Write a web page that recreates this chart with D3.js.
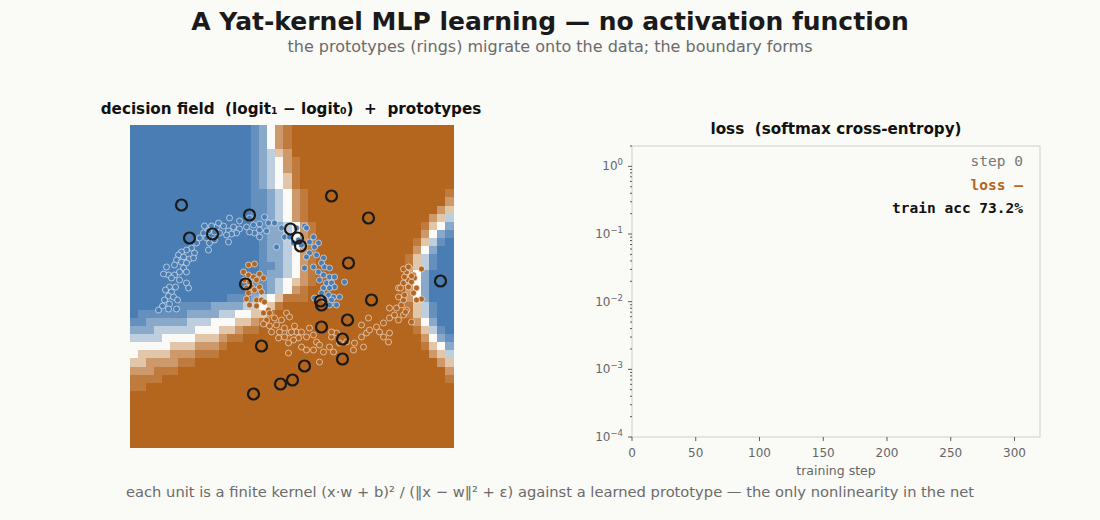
<!DOCTYPE html>
<html>
<head>
<meta charset="utf-8">
<script src="https://cdnjs.cloudflare.com/ajax/libs/d3/7.8.5/d3.min.js"></script>
<style>
  body { margin: 0; background: #fafaf6; }
  text { font-family: "DejaVu Sans", sans-serif; }
  .mono { font-family: "DejaVu Sans Mono", monospace; }
</style>
</head>
<body>
<script>
// decision field, 40x40 cells, top row first. digit 0 = strong class 0 (blue), 4 = boundary, 8 = strong class 1 (orange)
const fieldRows = [
  "0000000000000001246788888888888888888888",
  "0000000000000001246788888888888888888888",
  "0000000000000001246788888888888888888888",
  "0000000000000001235688888888888888888888",
  "0000000000000001234678888888888888888888",
  "0000000000000001234678888888888888888888",
  "0000000000000001234578888888888888888888",
  "0000000000000001234578888888888888888888",
  "0000000000000001123467888888888888888887",
  "0000000000000001123467888888888888888886",
  "0000000000000001123467888888888888888865",
  "0000000000000001123467888888888888888653",
  "0000000000000000122346788888888888887542",
  "0000000000000000122346788888888888886421",
  "0000000000000000122346788888888888875310",
  "0000000000000000122346788888888888864200",
  "0000000000000000122346788888888888753100",
  "0000000000000000112346788888888888753100",
  "0000000000000000122346788888888888642000",
  "0000000000000001123456788888888888642000",
  "0000000000000001123467888888888888642000",
  "0000000000001112345777888888888888642000",
  "0000001111222233457888888888888888753100",
  "0111111222233445578888888888888888753100",
  "1122222333444556788888888888888888864200",
  "2223333344455677888888888888888888875310",
  "3333444455567788888888888888888888886421",
  "4444455566678888888888888888888888887542",
  "4555566677788888888888888888888888888653",
  "5566667788888888888888888888888888888865",
  "6667778888888888888888888888888888888886",
  "7777888888888888888888888888888888888887",
  "7788888888888888888888888888888888888888",
  "8888888888888888888888888888888888888888",
  "8888888888888888888888888888888888888888",
  "8888888888888888888888888888888888888888",
  "8888888888888888888888888888888888888888",
  "8888888888888888888888888888888888888888",
  "8888888888888888888888888888888888888888",
  "8888888888888888888888888888888888888888"
];

// training points, class 0 (blue moon)
const class0 = [
  [-0.62,0.68],[-0.52,0.65],[-0.42,0.68],[-0.27,0.69],[-0.32,0.62],[-0.23,0.63],[-0.17,0.63],[-0.38,0.61],
  [-0.45,0.59],[-0.52,0.57],[-0.58,0.59],[-0.63,0.55],[-0.68,0.60],[-0.75,0.59],[-0.80,0.60],[-0.87,0.60],
  [-0.55,0.53],[-0.60,0.52],[-0.65,0.51],[-0.63,0.44],[-0.72,0.53],[-0.77,0.54],[-0.83,0.55],[-0.88,0.53],
  [-0.92,0.48],[-0.85,0.48],[-0.82,0.43],[-0.83,0.36],[-0.77,0.46],[-0.95,0.43],[-1.00,0.38],[-0.97,0.33],
  [-1.05,0.36],[-1.10,0.34],[-1.13,0.31],[-1.08,0.29],[-1.02,0.27],[-1.15,0.26],[-1.10,0.24],[-1.05,0.23],
  [-0.98,0.28],[-1.17,0.21],[-1.08,0.18],[-1.12,0.14],[-1.05,0.14],[-1.17,0.11],[-1.23,0.11],[-1.28,0.12],
  [-1.25,0.19],[-1.20,0.08],[-1.12,0.06],[-1.05,0.03],[-1.03,-0.02],[-1.22,-0.01],[-1.26,-0.04],[-1.20,-0.06],
  [-1.16,-0.01],[-1.23,-0.10],[-1.18,-0.11],[-1.27,-0.14],[-1.14,-0.14],[-1.22,-0.18],[-1.29,-0.20],[-1.33,-0.24],
  [-1.23,-0.23],[-1.15,-0.23],[-0.32,0.56],[-0.32,0.49],[-0.25,0.55],[-0.37,0.53],[-0.42,0.54],[-0.15,0.39],
  [-0.73,0.63],[-0.10,0.58],[-0.07,0.49],[-0.02,0.49],[0.05,0.58],[0.13,0.60],[0.15,0.58],[0.07,0.46],
  [0.02,0.43],[0.10,0.41],[0.18,0.44],[0.22,0.49],[0.27,0.43],[0.23,0.39],[0.18,0.33],[0.15,0.29],
  [0.25,0.31],[0.32,0.28],[0.30,0.23],[0.22,0.19],[0.13,0.18],[0.33,0.19],[0.38,0.18],[0.27,0.14],
  [0.32,0.11],[0.38,0.09],[0.43,0.09],[0.28,0.06],[0.35,0.03],[0.40,0.03],[0.53,0.04],[0.43,-0.01],
  [0.32,-0.02],[0.38,-0.02],[0.30,-0.07],[0.37,-0.09],[0.42,-0.11],[0.48,-0.11],[0.33,-0.13],[0.40,-0.14],
  [0.38,-0.19],[0.45,-0.19],[0.23,-0.12]
];

// training points, class 1 (orange moon)
const class1 = [
  [-0.43,0.21],[-0.37,0.22],[-0.48,0.14],[-0.43,0.11],[-0.38,0.09],[-0.32,0.12],[-0.47,0.06],[-0.42,0.04],
  [-0.35,0.06],[-0.28,0.08],[-0.40,-0.01],[-0.45,-0.02],[-0.37,-0.04],[-0.32,-0.01],[-0.43,-0.07],[-0.30,-0.06],
  [-0.45,-0.13],[-0.35,-0.14],[-0.30,-0.14],[-0.42,-0.19],[-0.35,-0.20],[-0.27,-0.16],[-0.23,-0.24],[-0.28,-0.27],
  [-0.22,-0.27],[-0.17,-0.32],[-0.25,-0.34],[-0.28,-0.38],[-0.22,-0.40],[-0.15,-0.39],[-0.10,-0.34],[-0.05,-0.27],
  [-0.02,-0.31],[0.03,-0.40],[-0.07,-0.42],[-0.12,-0.46],[-0.07,-0.51],[-0.02,-0.47],[0.05,-0.46],[0.10,-0.46],
  [0.15,-0.51],[0.07,-0.52],[0.02,-0.54],[-0.03,-0.57],[-0.13,-0.52],[0.10,-0.61],[0.15,-0.64],[0.22,-0.49],
  [0.25,-0.56],[0.28,-0.59],[0.22,-0.64],[0.32,-0.66],[0.38,-0.61],[0.40,-0.51],[0.45,-0.47],[0.42,-0.66],
  [0.48,-0.57],[0.55,-0.56],[0.63,-0.57],[0.62,-0.64],[0.70,-0.51],[0.75,-0.47],[0.78,-0.44],[0.85,-0.41],
  [0.88,-0.46],[0.92,-0.51],[0.97,-0.56],[0.98,-0.47],[0.92,-0.37],[0.98,-0.32],[1.03,-0.29],[1.07,-0.34],
  [1.12,-0.29],[1.20,-0.36],[1.15,-0.24],[1.05,-0.22],[0.98,-0.22],[1.10,-0.19],[1.12,-0.14],[1.07,-0.11],
  [1.13,-0.09],[1.07,-0.02],[1.12,0.03],[1.17,0.06],[1.15,0.14],[1.18,0.18],[1.22,0.11],[0.70,-0.39],
  [0.77,-0.32],[-0.03,-0.67],[0.28,-0.76],[0.40,-0.46],[0.18,-0.42],[0.72,-0.61],[0.00,-0.46],[-0.20,-0.46],
  [1.30,0.17],[1.23,0.08],[1.20,0.04],[1.25,-0.02],[1.22,-0.07],[1.30,-0.13],[1.25,-0.14],[1.17,-0.01],
  [1.20,0.10],[1.12,0.17],[1.17,0.19],[1.13,0.09],[1.09,-0.02],[1.14,-0.26]
];

// learned prototypes (ring centres)
const prototypes = [
  [-1.10,0.81],[-1.02,0.48],[-0.79,0.52],[-0.42,0.71],[-0.01,0.57],[0.06,0.48],[0.09,0.40],[0.40,0.90],
  [0.77,0.68],[0.57,0.23],[-0.46,0.02],[1.49,0.05],[0.80,-0.14],[0.29,-0.15],[0.30,-0.19],[0.56,-0.34],
  [0.30,-0.41],[0.51,-0.53],[0.51,-0.73],[-0.30,-0.60],[0.13,-0.80],[0.01,-0.94],[-0.11,-0.98],[-0.38,-1.08]
];

// loss panel
const lossDecades = [1e-4, 1e-3, 1e-2, 1e-1, 1];
const decadeExp = ["\u22124", "\u22123", "\u22122", "\u22121", "0"];
const stepTicks = [0, 50, 100, 150, 200, 250, 300];
const statusLines = [
  { text: "step 0", color: "#777777", weight: "normal" },
  { text: "loss \u2014", color: "#b5651d", weight: "bold" },
  { text: "train acc 73.2%", color: "#111111", weight: "bold" }
];

const W = 1100, H = 520;
const BLUE = "#4a7db3", ORANGE = "#b4651e", MID = "#fbfaf6";

const svg = d3.select("body").append("svg")
  .attr("width", W).attr("height", H)
  .style("display", "block");

svg.append("rect").attr("width", W).attr("height", H).attr("fill", "#fafaf6");

// titles
svg.append("text").attr("x", 550).attr("y", 30).attr("text-anchor", "middle")
  .attr("font-size", 25).attr("font-weight", "bold").attr("fill", "#1a1a1a")
  .text("A Yat-kernel MLP learning \u2014 no activation function");
svg.append("text").attr("x", 550).attr("y", 52).attr("text-anchor", "middle")
  .attr("font-size", 16).attr("fill", "#6b6b6b")
  .text("the prototypes (rings) migrate onto the data; the boundary forms");

// ---- decision field ----
const fx0 = 130, fx1 = 453, fy0 = 125, fy1 = 447;
const nCols = fieldRows[0].length, nRows = fieldRows.length;

const colBand = d3.scaleBand().domain(d3.range(nCols)).range([fx0, fx1]);
const rowBand = d3.scaleBand().domain(d3.range(nRows)).range([fy0, fy1]);

// colours get pale only close to the boundary
const whiteMix = [0, 0.15, 0.35, 0.65, 1];
const toBlue = d3.interpolateRgb(BLUE, MID), toOrange = d3.interpolateRgb(ORANGE, MID);
const fieldColor = v => v <= 0 ? toBlue(whiteMix[4 + v]) : toOrange(whiteMix[4 - v]);

const cells = [];
fieldRows.forEach((row, r) => {
  row.split("").forEach((ch, c) => cells.push({ r, c, v: +ch - 4 }));
});

svg.append("g").selectAll("rect")
  .data(cells)
  .enter().append("rect")
  .attr("x", d => colBand(d.c))
  .attr("y", d => rowBand(d.r))
  .attr("width", colBand.bandwidth() + 0.5)
  .attr("height", rowBand.bandwidth() + 0.5)
  .attr("fill", d => fieldColor(d.v))
  .attr("shape-rendering", "crispEdges");

const xF = d3.scaleLinear().domain([-1.615, 1.615]).range([fx0, fx1]);
const yF = d3.scaleLinear().domain([-1.61, 1.61]).range([fy1, fy0]);

const pts = svg.append("g");
pts.selectAll("circle.c0")
  .data(class0).enter().append("circle").attr("class", "c0")
  .attr("cx", d => xF(d[0])).attr("cy", d => yF(d[1])).attr("r", 3)
  .attr("fill", BLUE).attr("stroke", "#ffffff").attr("stroke-opacity", 0.7).attr("stroke-width", 0.8);
pts.selectAll("circle.c1")
  .data(class1).enter().append("circle").attr("class", "c1")
  .attr("cx", d => xF(d[0])).attr("cy", d => yF(d[1])).attr("r", 3)
  .attr("fill", ORANGE).attr("stroke", "#ffffff").attr("stroke-opacity", 0.7).attr("stroke-width", 0.8);

svg.append("g").selectAll("circle")
  .data(prototypes).enter().append("circle")
  .attr("cx", d => xF(d[0])).attr("cy", d => yF(d[1])).attr("r", 5.5)
  .attr("fill", "none").attr("stroke", "#1a1a1a").attr("stroke-width", 2.2);

svg.append("text").attr("x", 291).attr("y", 114).attr("text-anchor", "middle")
  .attr("font-size", 15.2).attr("font-weight", "bold").attr("fill", "#111")
  .style("white-space", "pre")
  .text("decision field  (logit\u2081 \u2212 logit\u2080)  +  prototypes");

// ---- loss panel ----
const lx0 = 632, lx1 = 1040, ly0 = 146, ly1 = 437;
const xS = d3.scaleLinear().domain([0, 320]).range([lx0, lx1]);
const yL = d3.scaleLog().domain([1e-4, 2]).range([ly1, ly0]);

svg.append("rect").attr("x", lx0).attr("y", ly0).attr("width", lx1 - lx0).attr("height", ly1 - ly0)
  .attr("fill", "none").attr("stroke", "#cfcfcb").attr("stroke-width", 1);

const yAxis = svg.append("g");
yAxis.selectAll("line.minor")
  .data(yL.ticks().filter(v => lossDecades.indexOf(v) < 0))
  .enter().append("line").attr("class", "minor")
  .attr("x1", lx0 - 2).attr("x2", lx0)
  .attr("y1", d => yL(d)).attr("y2", d => yL(d))
  .attr("stroke", "#333").attr("stroke-width", 0.8);
yAxis.selectAll("line.major")
  .data(lossDecades).enter().append("line").attr("class", "major")
  .attr("x1", lx0 - 4).attr("x2", lx0)
  .attr("y1", d => yL(d)).attr("y2", d => yL(d))
  .attr("stroke", "#333").attr("stroke-width", 0.8);
const yLab = yAxis.selectAll("text")
  .data(lossDecades).enter().append("text")
  .attr("x", lx0 - 9).attr("y", d => yL(d) + 4)
  .attr("text-anchor", "end").attr("font-size", 12).attr("fill", "#666");
yLab.append("tspan").text("10");
yLab.append("tspan").attr("dy", -5).attr("font-size", 8.5).text((d, i) => decadeExp[i]);

const xAxis = svg.append("g");
xAxis.selectAll("line")
  .data(stepTicks).enter().append("line")
  .attr("x1", d => xS(d)).attr("x2", d => xS(d))
  .attr("y1", ly1).attr("y2", ly1 + 4)
  .attr("stroke", "#333").attr("stroke-width", 0.8);
xAxis.selectAll("text")
  .data(stepTicks).enter().append("text")
  .attr("x", d => xS(d)).attr("y", ly1 + 20)
  .attr("text-anchor", "middle").attr("font-size", 12).attr("fill", "#666")
  .text(d => d);

svg.append("text").attr("x", (lx0 + lx1) / 2).attr("y", 475).attr("text-anchor", "middle")
  .attr("font-size", 12.5).attr("fill", "#666").text("training step");

svg.append("text").attr("x", 836).attr("y", 134).attr("text-anchor", "middle")
  .attr("font-size", 15.2).attr("font-weight", "bold").attr("fill", "#111")
  .style("white-space", "pre")
  .text("loss  (softmax cross-entropy)");

svg.append("g").selectAll("text")
  .data(statusLines).enter().append("text")
  .attr("class", "mono")
  .attr("x", 1023).attr("y", (d, i) => 166 + i * 23.5)
  .attr("text-anchor", "end").attr("font-size", 14.5)
  .attr("font-weight", d => d.weight).attr("fill", d => d.color)
  .style("white-space", "pre")
  .text(d => d.text);

// footer
svg.append("text").attr("x", 550).attr("y", 497).attr("text-anchor", "middle")
  .attr("font-size", 14.7).attr("fill", "#6b6b6b")
  .text("each unit is a finite kernel (x\u00b7w + b)\u00b2 / (\u2016x \u2212 w\u2016\u00b2 + \u03b5) against a learned prototype \u2014 the only nonlinearity in the net");
</script>
</body>
</html>
